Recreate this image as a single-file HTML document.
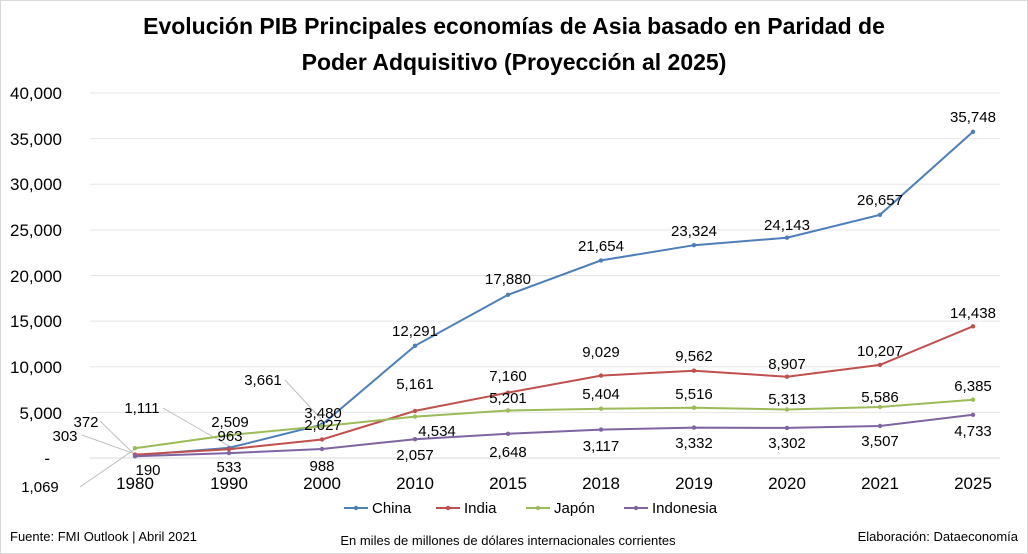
<!DOCTYPE html>
<html><head><meta charset="utf-8"><style>
body{margin:0;background:#fff}
svg{display:block;font-family:"Liberation Sans",sans-serif}
</style></head><body>
<svg width="1028" height="554" viewBox="0 0 1028 554">
<defs>
<marker id="mb" markerWidth="6" markerHeight="6" refX="3" refY="3" markerUnits="userSpaceOnUse"><circle cx="3" cy="3" r="2.2" fill="#4e7eb8"/></marker>
<marker id="mr" markerWidth="6" markerHeight="6" refX="3" refY="3" markerUnits="userSpaceOnUse"><circle cx="3" cy="3" r="2.2" fill="#c0504d"/></marker>
<marker id="mg" markerWidth="6" markerHeight="6" refX="3" refY="3" markerUnits="userSpaceOnUse"><circle cx="3" cy="3" r="2.2" fill="#9bbb59"/></marker>
<marker id="mp" markerWidth="6" markerHeight="6" refX="3" refY="3" markerUnits="userSpaceOnUse"><circle cx="3" cy="3" r="2.2" fill="#8064a2"/></marker>
</defs>
<rect x="0.5" y="0.5" width="1027" height="553" fill="#fff" stroke="#d9d9d9"/>
<text x="514" y="34" text-anchor="middle" font-size="23" font-weight="bold" fill="#000">Evolución PIB Principales economías de Asia basado en Paridad de</text>
<text x="514" y="70" text-anchor="middle" font-size="23" font-weight="bold" fill="#000">Poder Adquisitivo (Proyección al 2025)</text>
<g stroke="#e6e6e6" stroke-width="1">
<line x1="90" x2="1000" y1="93" y2="93"/><line x1="90" x2="1000" y1="138.6" y2="138.6"/>
<line x1="90" x2="1000" y1="184.3" y2="184.3"/><line x1="90" x2="1000" y1="229.9" y2="229.9"/>
<line x1="90" x2="1000" y1="275.5" y2="275.5"/><line x1="90" x2="1000" y1="321.1" y2="321.1"/>
<line x1="90" x2="1000" y1="366.8" y2="366.8"/><line x1="90" x2="1000" y1="412.4" y2="412.4"/>
<line x1="90" x2="1000" y1="458" y2="458" stroke="#d9d9d9"/>
</g>
<g font-size="17" fill="#000" text-anchor="end">
<text x="62" y="99">40,000</text><text x="62" y="145">35,000</text><text x="62" y="190">30,000</text>
<text x="62" y="236">25,000</text><text x="62" y="282">20,000</text><text x="62" y="327">15,000</text>
<text x="62" y="373">10,000</text><text x="62" y="419">5,000</text><text x="50" y="464">-</text>
</g>
<g font-size="17" fill="#000" text-anchor="middle">
<text x="135" y="489">1980</text><text x="229" y="489">1990</text><text x="322" y="489">2000</text>
<text x="415" y="489">2010</text><text x="508" y="489">2015</text><text x="601" y="489">2018</text>
<text x="694" y="489">2019</text><text x="787" y="489">2020</text><text x="880" y="489">2021</text>
<text x="973" y="489">2025</text>
</g>
<g stroke="#bfbfbf" fill="none" stroke-width="1">
<polyline points="100,421 135,455"/><polyline points="82,435 135,454"/>
<polyline points="163,408 229,446"/><polyline points="285,380 322,420"/>
<polyline points="80,487 135,449"/>
</g>
<g fill="none" stroke-width="2">
<polyline stroke="#4e7eb8" marker-start="url(#mb)" marker-mid="url(#mb)" marker-end="url(#mb)" points="135,455.2 229,447.9 322,424.6 415,345.8 508,294.8 601,260.4 694,245.2 787,237.7 880,214.8 973,131.8"/>
<polyline stroke="#c0504d" marker-start="url(#mr)" marker-mid="url(#mr)" marker-end="url(#mr)" points="135,454.6 229,449.2 322,439.5 415,410.9 508,392.7 601,375.6 694,370.7 787,376.7 880,364.9 973,326.3"/>
<polyline stroke="#9bbb59" marker-start="url(#mg)" marker-mid="url(#mg)" marker-end="url(#mg)" points="135,448.2 229,435.1 322,426.2 415,416.6 508,410.5 601,408.7 694,407.7 787,409.5 880,407.0 973,399.7"/>
<polyline stroke="#8064a2" marker-start="url(#mp)" marker-mid="url(#mp)" marker-end="url(#mp)" points="135,456.3 229,453.1 322,449.0 415,439.2 508,433.8 601,429.6 694,427.6 787,427.9 880,426.0 973,414.8"/>
</g>
<g font-size="15" fill="#000" text-anchor="middle">
<text x="415" y="336">12,291</text><text x="508" y="284">17,880</text><text x="601" y="251">21,654</text>
<text x="694" y="236">23,324</text><text x="787" y="230">24,143</text><text x="880" y="205">26,657</text><text x="973" y="122">35,748</text>
<text x="415" y="389">5,161</text><text x="508" y="381">7,160</text><text x="601" y="357">9,029</text>
<text x="694" y="361">9,562</text><text x="787" y="369">8,907</text><text x="880" y="356">10,207</text><text x="973" y="318">14,438</text>
<text x="437" y="436">4,534</text><text x="508" y="403">5,201</text><text x="601" y="399">5,404</text>
<text x="694" y="399">5,516</text><text x="787" y="404">5,313</text><text x="880" y="402">5,586</text><text x="973" y="391">6,385</text>
<text x="415" y="460">2,057</text><text x="508" y="457">2,648</text><text x="601" y="451">3,117</text>
<text x="694" y="448">3,332</text><text x="787" y="448">3,302</text><text x="880" y="446">3,507</text><text x="973" y="436">4,733</text>
<text x="86" y="427">372</text><text x="65" y="441">303</text><text x="40" y="492">1,069</text><text x="148" y="475">190</text>
<text x="142" y="413">1,111</text><text x="230" y="427">2,509</text><text x="230" y="441">963</text><text x="229" y="472">533</text>
<text x="263" y="385">3,661</text><text x="323" y="418">3,480</text><text x="323" y="430">2,027</text><text x="322" y="471">988</text>
</g>
<g font-size="15" fill="#000">
<line x1="344" x2="368" y1="508" y2="508" stroke="#4e7eb8" stroke-width="2"/><circle cx="356" cy="508" r="2.2" fill="#4e7eb8"/><text x="372" y="513">China</text>
<line x1="436" x2="460" y1="508" y2="508" stroke="#c0504d" stroke-width="2"/><circle cx="448" cy="508" r="2.2" fill="#c0504d"/><text x="464" y="513">India</text>
<line x1="526" x2="550" y1="508" y2="508" stroke="#9bbb59" stroke-width="2"/><circle cx="538" cy="508" r="2.2" fill="#9bbb59"/><text x="554" y="513">Japón</text>
<line x1="624" x2="648" y1="508" y2="508" stroke="#8064a2" stroke-width="2"/><circle cx="636" cy="508" r="2.2" fill="#8064a2"/><text x="652" y="513">Indonesia</text>
</g>
<g font-size="13" fill="#000">
<text x="10" y="541">Fuente: FMI Outlook | Abril 2021</text>
<text x="508" y="545" text-anchor="middle">En miles de millones de dólares internacionales corrientes</text>
<text x="1018" y="541" text-anchor="end">Elaboración: Dataeconomía</text>
</g>
</svg>
</body></html>
